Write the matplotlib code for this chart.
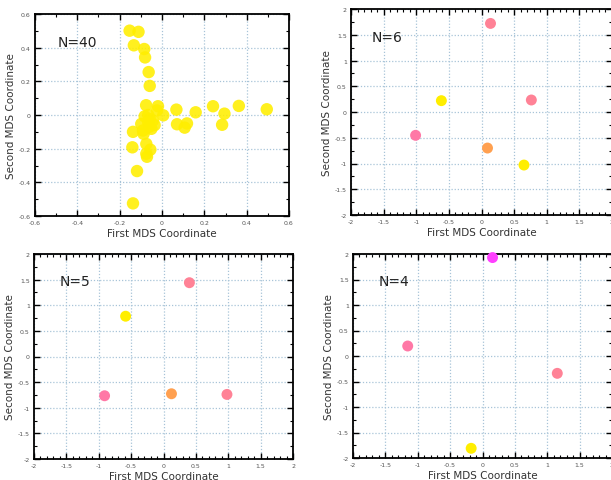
import matplotlib
matplotlib.use("Agg")
import matplotlib.pyplot as plt
from matplotlib.ticker import MultipleLocator, FuncFormatter

plt.rcParams['font.family'] = ['DejaVu Sans']
plt.rcParams['axes.unicode_minus'] = False

# ---- data ----
n40_x = [-0.153, -0.111, -0.133, -0.084, -0.080, -0.063, -0.058, -0.075, -0.019, -0.024,
         0.006, 0.068, 0.159, 0.241, 0.295, 0.363, 0.495, 0.284, 0.071, 0.107,
         0.118, -0.082, -0.058, -0.043, -0.065, -0.098, -0.050, -0.137, -0.090, -0.087,
         -0.140, -0.074, -0.055, -0.074, -0.071, -0.118, -0.137, -0.065, -0.035, -0.060]
n40_y = [0.501, 0.494, 0.414, 0.392, 0.342, 0.255, 0.173, 0.058, 0.052, 0.027,
         -0.002, 0.032, 0.016, 0.052, 0.008, 0.054, 0.034, -0.058, -0.055, -0.075,
         -0.050, -0.008, -0.024, -0.033, -0.045, -0.053, -0.082, -0.100, -0.092, -0.112,
         -0.192, -0.172, -0.206, -0.230, -0.248, -0.333, -0.525, 0.000, -0.060, -0.070]

n6_x = [0.138, 0.764, -0.615, -1.01, 0.092, 0.651]
n6_y = [1.72, 0.233, 0.22, -0.453, -0.70, -1.03]
n6_c = ['pink', 'pink', 'yellow', 'rose', 'orange', 'yellow']

n5_x = [0.40, -0.585, -0.91, 0.123, 0.98]
n5_y = [1.44, 0.786, -0.766, -0.727, -0.74]
n5_c = ['pink', 'yellow', 'rose', 'orange', 'pink']

n4_x = [0.155, -1.155, 1.155, -0.175]
n4_y = [1.93, 0.196, -0.34, -1.81]
n4_c = ['magenta', 'rose', 'pink', 'yellow']

palette = {'yellow': '#FFEE00', 'pink': '#FF8296', 'rose': '#FF78A6',
           'orange': '#FFA050', 'magenta': '#FF40FF'}

fig = plt.figure(figsize=(6.11, 4.81), dpi=100)

W, H = 611.0, 481.0
def ax_px(l, r, t, b):
    return fig.add_axes([l / W, (H - b) / H, (r - l) / W, (b - t) / H])

axes = [
    ax_px(35, 289, 15, 217),
    ax_px(351, 612, 10, 216),
    ax_px(34, 293, 255, 460),
    ax_px(353, 612, 255, 459),
]

fmt = FuncFormatter(lambda v, p: ('%g' % round(v, 3)).replace('-0', '-0') if abs(v) > 1e-9 else '0')

def style(ax, lim, major, minor_x, minor_y):
    ax.set_xlim(-lim, lim)
    ax.set_ylim(-lim, lim)
    ax.xaxis.set_major_locator(MultipleLocator(major))
    ax.yaxis.set_major_locator(MultipleLocator(major))
    ax.xaxis.set_minor_locator(MultipleLocator(minor_x))
    ax.yaxis.set_minor_locator(MultipleLocator(minor_y))
    ax.xaxis.set_major_formatter(fmt)
    ax.yaxis.set_major_formatter(fmt)
    ax.tick_params(which='major', direction='in', top=True, right=True, length=4,
                   width=1.0, labelsize=4.5, labelcolor='#555555', pad=3)
    ax.tick_params(which='minor', direction='in', top=True, right=True, length=2.5,
                   width=0.8)
    for s in ax.spines.values():
        s.set_linewidth(1.3)
        s.set_color('black')
    ax.grid(True, which='major', linestyle=(0, (1, 1.5)), color='#A8C4D8', linewidth=0.9)
    ax.set_axisbelow(True)
    ax.set_xlabel('First MDS Coordinate', fontsize=7.5, color='#333333', labelpad=2)
    ax.set_ylabel('Second MDS Coordinate', fontsize=7.5, color='#333333', labelpad=2)

ax = axes[0]
style(ax, 0.6, 0.2, 0.1, 0.1)
ax.scatter(n40_x, n40_y, s=80, color='#FFEE00', alpha=0.88, edgecolors='none', zorder=3)
ax.text(0.09, 0.86, 'N=40', transform=ax.transAxes, fontsize=10, va='center', ha='left', color='#222222')

for ax, xs, ys, cs, label, tx in [
    (axes[1], n6_x, n6_y, n6_c, 'N=6', 0.079),
    (axes[2], n5_x, n5_y, n5_c, 'N=5', 0.098),
    (axes[3], n4_x, n4_y, n4_c, 'N=4', 0.098),
]:
    style(ax, 2, 0.5, 0.1, 0.25)
    ax.scatter(xs, ys, s=62, color=[palette[c] for c in cs], edgecolors='none', zorder=3, clip_on=False)
    ax.text(tx, 0.866, label, transform=ax.transAxes, fontsize=10, va='center', ha='left', color='#222222')

fig.savefig('out.png', dpi=100)
